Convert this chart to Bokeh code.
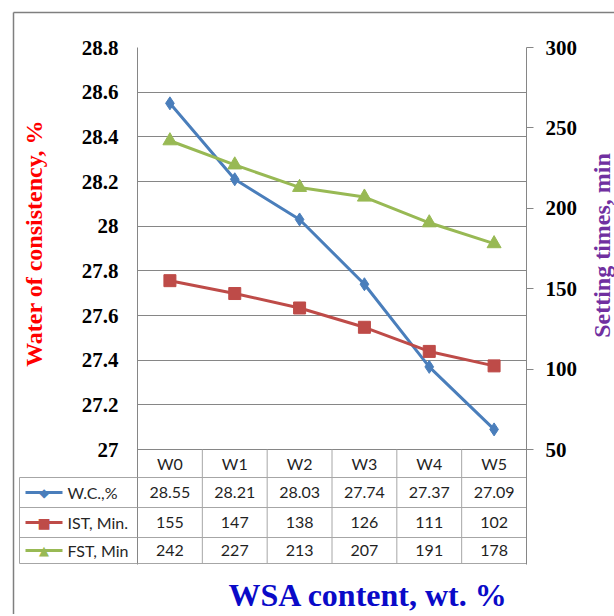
import math
from bokeh.plotting import figure
from bokeh.models import Range1d, LinearAxis, FixedTicker, CustomJSTickFormatter, ColumnDataSource
from bokeh.embed import file_html
from bokeh.resources import INLINE
from bokeh.core.properties import value

# ---------------- data ----------------
categories = ["W0", "W1", "W2", "W3", "W4", "W5"]
wc = [28.55, 28.21, 28.03, 27.74, 27.37, 27.09]
ist = [155, 147, 138, 126, 111, 102]
fst = [242, 227, 213, 207, 191, 178]
series_names = ["W.C.,%", "IST, Min.", "FST, Min"]
left_ticks = [27, 27.2, 27.4, 27.6, 27.8, 28, 28.2, 28.4, 28.6, 28.8]
right_ticks = [50, 100, 150, 200, 250, 300]

# ---------------- layout (canvas pixels) ----------------
W, H = 614, 614
FL, FR, FT, FB = 137, 526, 47, 564      # frame edges (plot + data table)
PLOT_B = 449                             # bottom of the chart area
ROW_LINES = [477, 507, 537, 563]
ROW_CENTERS = [463, 492, 522, 550]
LEG_L = 19
LEG_SAMPLE = (25, 62)
LEG_TEXT_X = 67
BORDER_X, BORDER_Y = 13, 12

n = len(categories)
L_MIN, L_MAX = left_ticks[0], left_ticks[-1]
R_MIN, R_MAX = right_ticks[0], right_ticks[-1]


def xd(px):
    return (px - FL) / (FR - FL) * n


def yl(py):
    return L_MAX - (py - FT) * (L_MAX - L_MIN) / (PLOT_B - FT)


def yr(py):
    return R_MAX - (py - FT) * (R_MAX - R_MIN) / (PLOT_B - FT)


GRID = "#868686"
TABLE = "#a6a6a6"
BLUE, RED, GREEN = "#4a7ebb", "#be4b48", "#98b954"
TXT = "#1f1f1f"

p = figure(width=W, height=H, output_backend="svg", toolbar_location=None,
           x_range=Range1d(0, n), y_range=Range1d(yl(FB), L_MAX),
           x_axis_location=None,
           min_border_left=FL, min_border_right=W - FR,
           min_border_top=FT, min_border_bottom=H - FB)
p.outline_line_color = None
p.background_fill_color = "white"
p.border_fill_color = "white"
p.extra_y_ranges = {"right": Range1d(yr(FB), R_MAX)}

fmt = CustomJSTickFormatter(code="return String(Math.round(tick*10)/10)")
lax = p.yaxis[0]
lax.ticker = FixedTicker(ticks=left_ticks)
lax.formatter = fmt
lax.major_tick_out = 0
lax.major_tick_in = 0
lax.minor_tick_out = 0
lax.minor_tick_in = 0
lax.axis_line_color = GRID
lax.major_label_standoff = 19
lax.major_label_text_font = "Liberation Serif"
lax.major_label_text_font_style = "bold"
lax.major_label_text_font_size = "21px"
lax.major_label_text_color = "black"

rax = LinearAxis(y_range_name="right", ticker=FixedTicker(ticks=right_ticks))
rax.major_tick_out = 7
rax.major_tick_in = 0
rax.minor_tick_out = 0
rax.minor_tick_in = 0
rax.axis_line_color = GRID
rax.major_tick_line_color = GRID
rax.major_label_standoff = 12
rax.major_label_text_font = "Liberation Serif"
rax.major_label_text_font_style = "bold"
rax.major_label_text_font_size = "21px"
rax.major_label_text_color = "black"
p.add_layout(rax, "right")

p.xgrid.visible = False
p.ygrid.ticker = FixedTicker(ticks=left_ticks)
p.ygrid.grid_line_color = GRID
p.ygrid.grid_line_width = 1

xs = [i + 0.5 for i in range(n)]
src = ColumnDataSource(dict(x=xs, cat=categories, wc=wc, ist=ist, fst=fst))

# ---------------- data table grid ----------------
hy = [yl(v) for v in ROW_LINES]
p.segment(x0=[0] * len(hy), y0=hy, x1=[n] * len(hy), y1=hy, line_color=TABLE, line_width=1)
vx = list(range(1, n))
p.segment(x0=vx, y0=[yl(PLOT_B)] * len(vx), x1=vx, y1=[yl(ROW_LINES[-1])] * len(vx),
          line_color=TABLE, line_width=1)
# legend column of the table (outside the frame)
p.segment(x0=[xd(LEG_L)] * len(hy), y0=hy, x1=[0] * len(hy), y1=hy,
          line_color=TABLE, line_width=1, level="overlay")
p.segment(x0=[xd(LEG_L)], y0=[yl(ROW_LINES[0])], x1=[xd(LEG_L)], y1=[yl(ROW_LINES[-1])],
          line_color=TABLE, line_width=1, level="overlay")
# outer chart border
p.segment(x0=[xd(BORDER_X), xd(BORDER_X)], y0=[yl(BORDER_Y), yl(BORDER_Y)],
          x1=[xd(BORDER_X), xd(W + 10)], y1=[yl(H + 10), yl(BORDER_Y)],
          line_color="#7f7f7f", line_width=1.5, level="overlay")

# ---------------- series ----------------
p.line("x", "wc", source=src, line_color=BLUE, line_width=3)
p.scatter("x", "wc", source=src, marker="diamond", size=13, fill_color=BLUE, line_color=BLUE)
p.line("x", "ist", source=src, y_range_name="right", line_color=RED, line_width=3)
p.scatter("x", "ist", source=src, y_range_name="right", marker="square", size=12,
          fill_color=RED, line_color=RED)
p.line("x", "fst", source=src, y_range_name="right", line_color=GREEN, line_width=3)
p.scatter("x", "fst", source=src, y_range_name="right", marker="triangle", size=14,
          fill_color=GREEN, line_color=GREEN)

# ---------------- table legend keys (left column of data table) ----------------
colors = [BLUE, RED, GREEN]
key_symbols = ["\u25c6", "\u25a0", "\u25b2"]
key_sizes = ["12px", "14px", "13px"]
for k in range(3):
    yk = yl(ROW_CENTERS[k + 1])
    p.line(x=[xd(LEG_SAMPLE[0]), xd(LEG_SAMPLE[1])], y=[yk, yk], line_color=colors[k],
           line_width=3, level="overlay")
    p.text(x=[xd((LEG_SAMPLE[0] + LEG_SAMPLE[1]) / 2)], y=[yk], text=[key_symbols[k]],
           text_font=value("DejaVu Sans"), text_font_size=key_sizes[k], text_align="center",
           text_baseline="middle", text_color=colors[k], level="overlay")
p.text(x=[xd(LEG_TEXT_X)] * 3, y=[yl(c) for c in ROW_CENTERS[1:]], text=series_names,
       text_font=value("Lato"), text_font_size="16px", text_align="left",
       text_baseline="middle", text_color="#262626", level="overlay")

# ---------------- table text ----------------
tfont = value("Lato")
rows = [categories, ["%.2f" % v for v in wc], [str(v) for v in ist], [str(v) for v in fst]]
for r, labels in enumerate(rows):
    p.text(x=xs, y=[yl(ROW_CENTERS[r])] * n, text=labels, text_font=tfont,
           text_font_size="16px", text_align="center", text_baseline="middle", text_color=TXT)

# ---------------- titles ----------------
sfont = value("Liberation Serif")
p.text(x=[xd(33)], y=[yl(243)], text=["Water of consistency, %"], angle=math.pi / 2,
       text_align="center", text_baseline="middle", text_color="#ff0000",
       text_font=sfont, text_font_style="bold", text_font_size="24px", level="overlay")
p.text(x=[xd(601)], y=[yl(245)], text=["Setting times, min"], angle=math.pi / 2,
       text_align="center", text_baseline="middle", text_color="#7030a0",
       text_font=sfont, text_font_style="bold", text_font_size="24px", level="overlay")
p.text(x=[xd(368)], y=[yl(594)], text=["WSA content, wt. %"],
       text_align="center", text_baseline="middle", text_color="#0a0ac8",
       text_font=sfont, text_font_style="bold", text_font_size="32px", level="overlay")

open("out.html", "w").write(file_html(p, INLINE))
